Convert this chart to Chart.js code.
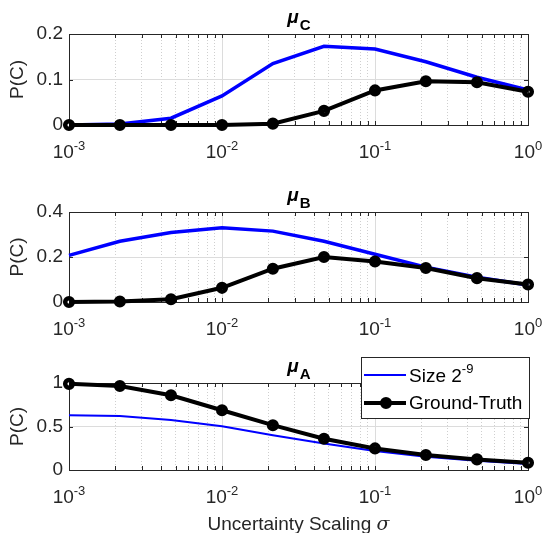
<!DOCTYPE html>
<html>
<head>
<meta charset="utf-8">
<script src="https://cdn.jsdelivr.net/npm/chart.js@4.4.0/dist/chart.umd.min.js"></script>
<style>
  body { margin: 0; background: #fff; }
  #wrap { position: relative; width: 545px; height: 533px; overflow: hidden; }
  canvas { position: absolute; left: 0; }
</style>
</head>
<body>
<div id="wrap">
  <canvas id="pC" width="545" height="170" style="top:0px"></canvas>
  <canvas id="pB" width="545" height="170" style="top:170px"></canvas>
  <canvas id="pA" width="545" height="193" style="top:340px"></canvas>
</div>
<script>
// uncertainty scaling values (x) shared by all three panels
const sigma = [0.001, 0.00215, 0.00464, 0.01, 0.0215, 0.0464, 0.1, 0.215, 0.464, 1];

// P(C) for mu_C
const sizeC  = [0, 0.002, 0.015, 0.064, 0.135, 0.173, 0.167, 0.139, 0.105, 0.077];
const truthC = [0, 0, 0, 0, 0.003, 0.031, 0.076, 0.096, 0.094, 0.073];

// P(C) for mu_B
const sizeB  = [0.207, 0.27, 0.309, 0.33, 0.315, 0.27, 0.212, 0.155, 0.11, 0.076];
const truthB = [0, 0.002, 0.012, 0.063, 0.148, 0.2, 0.18, 0.151, 0.106, 0.078];

// P(C) for mu_A
const sizeA  = [0.63, 0.62, 0.576, 0.504, 0.40, 0.305, 0.218, 0.153, 0.107, 0.069];
const truthA = [0.99, 0.966, 0.859, 0.687, 0.515, 0.359, 0.248, 0.172, 0.122, 0.084];

// axis ticks
const xDecades = [0.001, 0.01, 0.1, 1];
const xMinorMult = [2, 3, 4, 5, 6, 7, 8, 9];
const xExponents = ['-3', '-2', '-1', '0'];
const yTicksC = [0, 0.1, 0.2];
const yTicksB = [0, 0.2, 0.4];
const yTicksA = [0, 0.5, 1];

const seriesNames = ['Size 2', 'Ground-Truth'];
const xTitle = 'Uncertainty Scaling ';
const yTitle = 'P(C)';

const FONT = "'Liberation Sans', Arial, Helvetica, sans-serif";
const AX = '#262626';
const FS = 19;

const xTickValues = [];
xDecades.forEach((d, i) => {
  xTickValues.push(d);
  if (i < xDecades.length - 1) xMinorMult.forEach(m => xTickValues.push(+(m * d).toPrecision(3)));
});
const isMajor = v => xDecades.some(d => Math.abs(v - d) < d * 1e-6);

const px = v => Math.round(v) + 0.5;

function drawPow(ctx, x, y, exp) {
  ctx.font = FS + 'px ' + FONT;
  const wb = ctx.measureText('10').width;
  ctx.font = '13px ' + FONT;
  const we = ctx.measureText(exp).width;
  const x0 = x - (wb + we) / 2;
  ctx.textAlign = 'left';
  ctx.textBaseline = 'alphabetic';
  ctx.font = FS + 'px ' + FONT;
  ctx.fillText('10', x0, y);
  ctx.font = '13px ' + FONT;
  ctx.fillText(exp, x0 + wb, y - 8);
}

function makePanel(id, p) {
  const boxPlugin = {
    id: 'matlabBox',
    beforeDatasetsDraw(chart) {
      const { ctx, chartArea: a, scales } = chart;
      ctx.save();
      ctx.strokeStyle = AX;
      ctx.lineWidth = 1;
      ctx.beginPath();
      // top and right edges of the box
      ctx.moveTo(px(a.left), px(a.top));
      ctx.lineTo(px(a.right), px(a.top));
      ctx.lineTo(px(a.right), px(a.bottom));
      // inward tick marks
      xTickValues.forEach(v => {
        const x = px(scales.x.getPixelForValue(v));
        ctx.moveTo(x, a.bottom); ctx.lineTo(x, a.bottom - 4);
        ctx.moveTo(x, a.top); ctx.lineTo(x, a.top + 4);
      });
      p.yTicks.forEach(v => {
        const y = px(scales.y.getPixelForValue(v));
        ctx.moveTo(a.left, y); ctx.lineTo(a.left + 4, y);
        ctx.moveTo(a.right, y); ctx.lineTo(a.right - 4, y);
      });
      ctx.stroke();
      ctx.restore();
    },
    afterDraw(chart) {
      const { ctx, chartArea: a, scales } = chart;
      ctx.save();
      ctx.fillStyle = AX;
      // x tick labels as powers of ten
      xDecades.forEach((d, i) => {
        drawPow(ctx, scales.x.getPixelForValue(d), a.bottom + 33, xExponents[i]);
      });
      // panel title: mu with bold subscript
      ctx.fillStyle = '#000';
      ctx.font = 'italic bold 19px ' + FONT;
      const wm = ctx.measureText('\u03bc').width;
      ctx.font = 'bold 15px ' + FONT;
      const ws = ctx.measureText(p.title).width;
      const cx = (a.left + a.right) / 2 - (wm + ws) / 2;
      ctx.textAlign = 'left';
      ctx.textBaseline = 'alphabetic';
      ctx.font = 'italic bold 19px ' + FONT;
      ctx.fillText('\u03bc', cx, a.top - 11);
      ctx.font = 'bold 15px ' + FONT;
      ctx.fillText(p.title, cx + wm + 1, a.top - 4);

      if (p.last) {
        // x axis title
        ctx.fillStyle = AX;
        ctx.font = FS + 'px ' + FONT;
        const w1 = ctx.measureText(xTitle).width;
        ctx.font = 'italic ' + FS + 'px "DejaVu Serif", "Liberation Serif", serif';
        const w2 = ctx.measureText('\u03c3').width;
        const tx = (a.left + a.right) / 2 - (w1 + w2) / 2;
        ctx.font = FS + 'px ' + FONT;
        ctx.fillText(xTitle, tx, a.bottom + 60);
        ctx.font = 'italic ' + FS + 'px "DejaVu Serif", "Liberation Serif", serif';
        ctx.fillText('\u03c3', tx + w1, a.bottom + 60);

        // legend box
        const lx = 361, ly = a.top - 26, lw = 168, lh = 61;
        ctx.fillStyle = '#fff';
        ctx.fillRect(lx, ly, lw, lh);
        ctx.strokeStyle = AX;
        ctx.lineWidth = 1;
        ctx.strokeRect(px(lx), px(ly), lw, lh);
        const r1 = ly + 18, r2 = ly + 46;
        ctx.strokeStyle = '#0000ff';
        ctx.lineWidth = p.blueWidth;
        ctx.beginPath(); ctx.moveTo(lx + 3, r1); ctx.lineTo(lx + 45, r1); ctx.stroke();
        ctx.strokeStyle = '#000';
        ctx.lineWidth = 4;
        ctx.beginPath(); ctx.moveTo(lx + 3, r2); ctx.lineTo(lx + 45, r2); ctx.stroke();
        ctx.lineWidth = 4.5;
        ctx.beginPath(); ctx.arc(lx + 25, r2, 3.8, 0, Math.PI * 2); ctx.stroke();
        ctx.fillStyle = '#000';
        ctx.font = FS + 'px ' + FONT;
        ctx.textBaseline = 'middle';
        ctx.fillText(seriesNames[0], lx + 48, r1 + 2);
        const wsz = ctx.measureText(seriesNames[0]).width;
        ctx.font = '13px ' + FONT;
        ctx.fillText('-9', lx + 48 + wsz, r1 - 6);
        ctx.font = FS + 'px ' + FONT;
        ctx.fillText(seriesNames[1], lx + 48, r2 + 1);
      }
      ctx.restore();
    }
  };

  return new Chart(document.getElementById(id), {
    type: 'line',
    data: {
      datasets: [
        {
          label: seriesNames[1],
          data: sigma.map((s, i) => ({ x: s, y: p.truth[i] })),
          borderColor: '#000',
          borderWidth: 4,
          pointRadius: 3.8,
          pointBorderWidth: 4.5,
          pointBorderColor: '#000',
          pointBackgroundColor: 'rgba(0,0,0,0)',
          tension: 0,
          clip: false
        },
        {
          label: seriesNames[0] + '^-9',
          data: sigma.map((s, i) => ({ x: s, y: p.size[i] })),
          borderColor: '#0000ff',
          borderWidth: p.blueWidth,
          pointRadius: 0,
          tension: 0,
          clip: false
        }
      ]
    },
    options: {
      responsive: false,
      animation: false,
      events: [],
      layout: { padding: { top: p.padTop, right: 17, left: 0, bottom: 0 } },
      plugins: { legend: { display: false }, tooltip: { enabled: false } },
      scales: {
        x: {
          type: 'logarithmic',
          min: 0.001,
          max: 1,
          afterBuildTicks: s => { s.ticks = xTickValues.map(v => ({ value: v })); },
          afterFit: s => { s.height = p.xHeight; },
          ticks: { display: false },
          grid: {
            drawTicks: false,
            color: c => (c.tick && isMajor(c.tick.value)) ? '#dcdcdc' : '#cfcfcf',
            lineWidth: 1
          },
          border: {
            color: AX,
            width: 1,
            dash: c => (c.tick && !isMajor(c.tick.value)) ? [1, 2] : []
          }
        },
        y: {
          min: 0,
          max: p.yMax,
          afterBuildTicks: s => { s.ticks = p.yTicks.map(v => ({ value: v })); },
          afterFit: s => { s.width = 69; },
          ticks: {
            color: AX,
            padding: 6,
            font: { family: FONT, size: FS },
            callback: v => String(+v.toFixed(2))
          },
          grid: { drawTicks: false, color: '#dcdcdc', lineWidth: 1 },
          border: { color: AX, width: 1 },
          title: {
            display: true,
            text: yTitle,
            color: AX,
            font: { family: FONT, size: FS },
            padding: { top: 6, bottom: 0 }
          }
        }
      }
    },
    plugins: [boxPlugin]
  });
}

makePanel('pC', { title: 'C', size: sizeC, truth: truthC, yMax: 0.2, yTicks: yTicksC, padTop: 34, xHeight: 45, blueWidth: 3.5 });
makePanel('pB', { title: 'B', size: sizeB, truth: truthB, yMax: 0.4, yTicks: yTicksB, padTop: 42, xHeight: 38, blueWidth: 3.5 });
makePanel('pA', { title: 'A', size: sizeA, truth: truthA, yMax: 1, yTicks: yTicksA, padTop: 43, xHeight: 63, blueWidth: 2, last: true });
</script>
</body>
</html>
